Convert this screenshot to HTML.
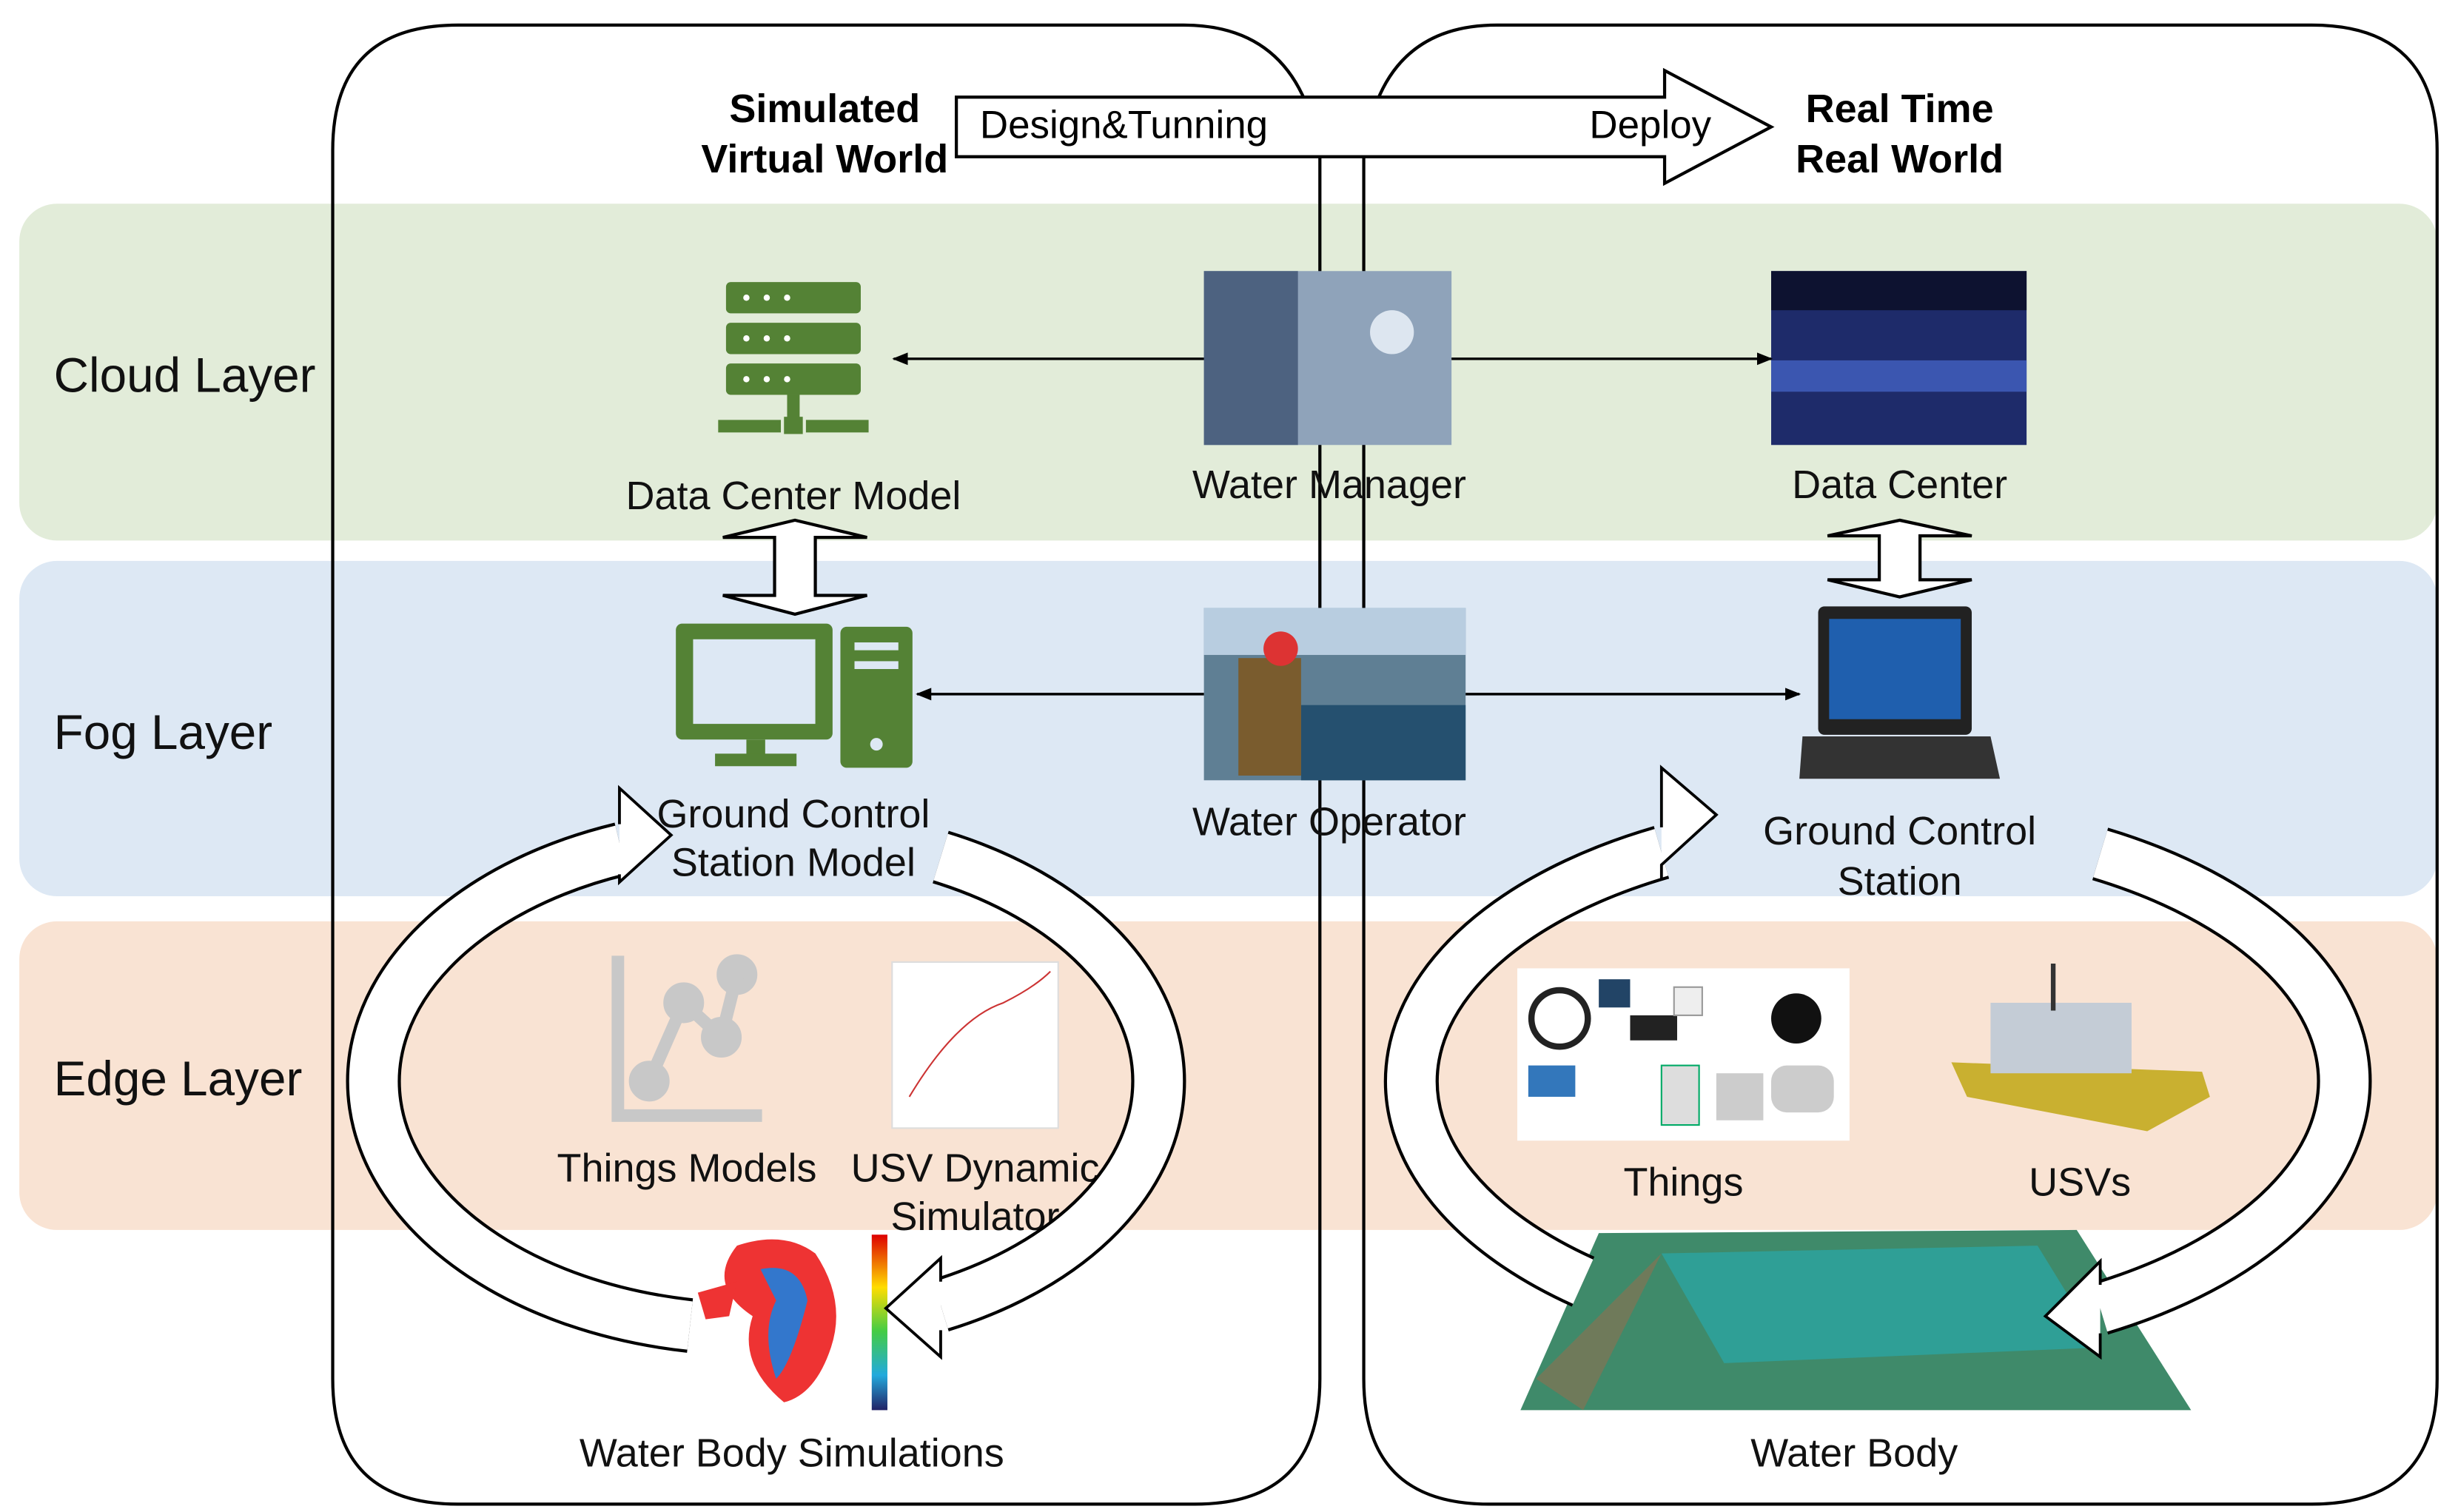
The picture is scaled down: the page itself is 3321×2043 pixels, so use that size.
<!DOCTYPE html>
<html><head><meta charset="utf-8"><style>html,body{margin:0;padding:0;background:#fff}svg{display:block}</style></head>
<body>
<svg width="3321" height="2043" viewBox="0 0 1568 965" xmlns="http://www.w3.org/2000/svg" font-family="Liberation Sans, Arial, sans-serif">
<defs>
<marker id="ah" markerWidth="10" markerHeight="8" refX="9" refY="4" orient="auto" markerUnits="userSpaceOnUse"><path d="M0,0 L10,4 L0,8 z" fill="#000"/></marker>
<linearGradient id="cb" x1="0" y1="0" x2="0" y2="1"><stop offset="0" stop-color="#d00"/><stop offset=".3" stop-color="#fd0"/><stop offset=".55" stop-color="#4c4"/><stop offset=".8" stop-color="#2ad"/><stop offset="1" stop-color="#226"/></linearGradient>
</defs>
<rect width="1568" height="965" fill="#fff"/>
<rect x="12" y="130" width="1543" height="215" rx="24" fill="#e2ecd9"/>
<rect x="12" y="358" width="1543" height="214" rx="24" fill="#dde8f4"/>
<rect x="12" y="588" width="1543" height="197" rx="24" fill="#f9e3d3"/>
<path d="M292,16 L755,16 Q830,16 842,100 L842,880 Q842,960 762,960 L292,960 Q212,960 212,880 L212,96 Q212,16 292,16 Z" fill="none" stroke="#000" stroke-width="2"/>
<path d="M955,16 L1475,16 Q1555,16 1555,96 L1555,880 Q1555,960 1475,960 L950,960 Q870,960 870,880 L870,100 Q880,16 955,16 Z" fill="none" stroke="#000" stroke-width="2"/>
<path d="M610,62 L1062,62 L1062,45 L1130,81 L1062,117 L1062,100 L610,100 Z" fill="#fff" stroke="#000" stroke-width="2"/>
<text x="625" y="88" font-size="25">Design&amp;Tunning</text>
<text x="1014" y="88" font-size="25">Deploy</text>
<g font-size="25.5" font-weight="bold" text-anchor="middle">
<text x="526" y="78">Simulated</text><text x="526" y="110">Virtual World</text>
<text x="1212" y="78">Real Time</text><text x="1212" y="110">Real World</text>
</g>
<g font-size="31" fill="#111"><text x="34" y="250">Cloud Layer</text><text x="34" y="478">Fog Layer</text><text x="34" y="699">Edge Layer</text></g>
<g fill="#548235">
<rect x="463" y="180" width="86" height="20" rx="3"/><rect x="463" y="206" width="86" height="20" rx="3"/><rect x="463" y="232" width="86" height="20" rx="3"/>
<rect x="502" y="252" width="8" height="17"/><rect x="458" y="268" width="40" height="8"/><rect x="500" y="266" width="12" height="11"/><rect x="514" y="268" width="40" height="8"/>
</g>
<g fill="#fff"><circle cx="476" cy="190" r="2"/><circle cx="489" cy="190" r="2"/><circle cx="502" cy="190" r="2"/><circle cx="476" cy="216" r="2"/><circle cx="489" cy="216" r="2"/><circle cx="502" cy="216" r="2"/><circle cx="476" cy="242" r="2"/><circle cx="489" cy="242" r="2"/><circle cx="502" cy="242" r="2"/></g>
<g fill="#548235">
<rect x="431" y="398" width="100" height="74" rx="4"/><rect x="476" y="472" width="12" height="10"/><rect x="456" y="481" width="52" height="8"/>
<rect x="536" y="400" width="46" height="90" rx="4"/>
</g>
<rect x="442" y="408" width="78" height="54" fill="#dde8f4"/>
<rect x="545" y="410" width="28" height="5" fill="#dde8f4"/><rect x="545" y="422" width="28" height="5" fill="#dde8f4"/><circle cx="559" cy="475" r="4" fill="#dde8f4"/>
<rect x="768" y="173" width="158" height="111" fill="#8fa3ba"/><rect x="768" y="173" width="60" height="111" fill="#4d6280"/><circle cx="888" cy="212" r="14" fill="#dde6f0"/>
<rect x="1130" y="173" width="163" height="111" fill="#1e2b6a"/><rect x="1130" y="230" width="163" height="20" fill="#3b56b0"/><rect x="1130" y="173" width="163" height="25" fill="#0d1230"/>
<rect x="768" y="388" width="167" height="110" fill="#5f7f94"/><rect x="768" y="388" width="167" height="30" fill="#b8cde0"/><rect x="830" y="450" width="105" height="48" fill="#25506f"/><rect x="790" y="420" width="40" height="75" fill="#7a5c2e"/><circle cx="817" cy="414" r="11" fill="#d33"/>
<rect x="1160" y="387" width="98" height="82" rx="4" fill="#222"/><rect x="1167" y="395" width="84" height="64" fill="#1f5fae"/><path d="M1150,470 L1270,470 L1276,497 L1148,497 Z" fill="#333"/>
<g stroke="#000" stroke-width="1.6" marker-end="url(#ah)">
<line x1="768" y1="229" x2="570" y2="229"/><line x1="926" y1="229" x2="1130" y2="229"/>
<line x1="768" y1="443" x2="585" y2="443"/><line x1="935" y1="443" x2="1148" y2="443"/>
</g>
<path d="M507,332 L553,343 L520,343 L520,380 L553,380 L507,392 L461,380 L494,380 L494,343 L461,343 Z" fill="#fff" stroke="#000" stroke-width="2"/>
<path d="M1212,332 L1258,342 L1225,342 L1225,370 L1258,370 L1212,381 L1166,370 L1199,370 L1199,342 L1166,342 Z" fill="#fff" stroke="#000" stroke-width="2"/>
<g font-size="25.5" text-anchor="middle" fill="#111">
<text x="506" y="325">Data Center Model</text>
<text x="848" y="318">Water Manager</text>
<text x="1212" y="318">Data Center</text>
<text x="848" y="533">Water Operator</text>
<text x="506" y="528">Ground Control</text><text x="506" y="559">Station Model</text>
<text x="1212" y="539">Ground Control</text><text x="1212" y="571">Station</text>
<text x="438" y="754">Things Models</text>
<text x="622" y="754">USV Dynamic</text><text x="622" y="785">Simulator</text>
<text x="1074" y="763">Things</text><text x="1327" y="763">USVs</text>
<text x="505" y="936">Water Body Simulations</text>
<text x="1183" y="936">Water Body</text>
</g>
<g stroke="#c8c8c8" stroke-width="8" fill="#c8c8c8">
<polyline points="394,610 394,712 486,712" fill="none"/>
<polyline points="414,690 436,640 460,662 470,622" fill="none"/>
<circle cx="414" cy="690" r="9"/><circle cx="436" cy="640" r="9"/><circle cx="460" cy="662" r="9"/><circle cx="470" cy="622" r="9"/>
</g>
<rect x="569" y="614" width="106" height="106" fill="#fff" stroke="#ddd"/>
<path d="M580,700 Q610,650 640,640 Q660,630 670,620" stroke="#c33" fill="none"/>
<rect x="968" y="618" width="212" height="110" fill="#fff"/>
<circle cx="995" cy="650" r="18" fill="none" stroke="#222" stroke-width="4"/><rect x="1040" y="648" width="30" height="16" fill="#222"/><rect x="1020" y="625" width="20" height="18" fill="#246"/><rect x="1068" y="630" width="18" height="18" fill="#eee" stroke="#999"/><circle cx="1146" cy="650" r="16" fill="#111"/><rect x="1095" y="685" width="30" height="30" fill="#ccc"/><rect x="1130" y="680" width="40" height="30" rx="10" fill="#ccc"/><rect x="975" y="680" width="30" height="20" fill="#37b"/><rect x="1060" y="680" width="24" height="38" fill="#ddd" stroke="#0a6"/>
<path d="M1245,678 L1405,684 L1410,700 L1370,722 L1255,700 Z" fill="#c9b030"/><rect x="1270" y="640" width="90" height="45" fill="#c4ccd6"/><line x1="1310" y1="615" x2="1310" y2="645" stroke="#333" stroke-width="3"/>
<path d="M1020,787 L1325,785 L1398,900 L970,900 Z" fill="#3f8a6a"/><path d="M1060,800 L1300,795 L1340,860 L1100,870 Z" fill="#2f9f96"/><path d="M980,880 L1060,800 L1010,900 Z" fill="#6f7a5a"/>
<path d="M470,795 Q500,785 520,800 Q540,830 530,860 Q520,890 500,895 Q470,870 480,840 Q450,820 470,795 Z" fill="#e33"/><path d="M485,810 Q510,805 515,830 Q505,870 495,880 Q485,850 495,830 Z" fill="#37c"/><path d="M445,825 L470,818 L465,840 L450,842 Z" fill="#e33"/>
<rect x="556" y="788" width="10" height="112" fill="url(#cb)"/>
<g fill="none" stroke-linecap="butt">
<path d="M440,846 A242,158 0 0 1 396,542" stroke="#000" stroke-width="35"/>
<path d="M440,846 A242,158 0 0 1 396,542" stroke="#fff" stroke-width="31"/>
<path d="M600,547 A242,158 0 0 1 600,833" stroke="#000" stroke-width="35"/>
<path d="M600,547 A242,158 0 0 1 600,833" stroke="#fff" stroke-width="31"/>
<path d="M1010,818 A298,165 0 0 1 1060,544" stroke="#000" stroke-width="35"/>
<path d="M1010,818 A298,165 0 0 1 1060,544" stroke="#fff" stroke-width="31"/>
<path d="M1340,545 A298,165 0 0 1 1340,835" stroke="#000" stroke-width="35"/>
<path d="M1340,545 A298,165 0 0 1 1340,835" stroke="#fff" stroke-width="31"/>
</g>
<g fill="#fff" stroke="#000" stroke-width="1.8">
<path d="M395,526 L395,503 L428,533 L395,563 L395,558"/>
<path d="M600,818 L600,803 L565,835 L600,866 L600,849"/>
<path d="M1060,528 L1060,490 L1095,520 L1060,552 L1060,561"/>
<path d="M1340,820 L1340,805 L1305,840 L1340,866 L1340,851"/>
</g>
</svg>
</body></html>
